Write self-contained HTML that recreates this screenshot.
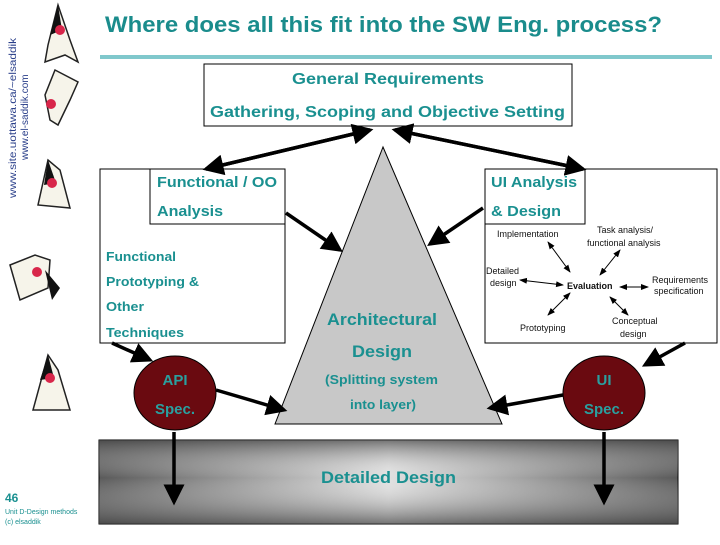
<!DOCTYPE html>
<html><head><meta charset="utf-8"><style>
html,body{margin:0;padding:0;background:#fff;}
svg text{font-family:"Liberation Sans",Arial,sans-serif;}
</style></head><body>
<svg width="720" height="540" viewBox="0 0 720 540" xmlns="http://www.w3.org/2000/svg">
<defs>
<marker id="ah" markerWidth="6" markerHeight="6" refX="5" refY="3" orient="auto" markerUnits="strokeWidth"><path d="M0,0 L6,3 L0,6 z" fill="#000"/></marker>
<marker id="as" markerWidth="8" markerHeight="8" refX="7" refY="4" orient="auto" markerUnits="userSpaceOnUse"><path d="M0,1 L8,4 L0,7 z" fill="#000"/></marker>
<marker id="as2" markerWidth="8" markerHeight="8" refX="1" refY="4" orient="auto" markerUnits="userSpaceOnUse"><path d="M8,1 L0,4 L8,7 z" fill="#000"/></marker>
<linearGradient id="gh" x1="0" x2="1" y1="0" y2="0"><stop offset="0" stop-color="#5a5a5a"/><stop offset="0.5" stop-color="#e0e0e0"/><stop offset="1" stop-color="#5a5a5a"/></linearGradient>
<linearGradient id="gv" x1="0" x2="0" y1="0" y2="1"><stop offset="0" stop-color="#444" stop-opacity="0.7"/><stop offset="0.45" stop-color="#fff" stop-opacity="0"/><stop offset="1" stop-color="#444" stop-opacity="0.7"/></linearGradient>
</defs>
<g lengthAdjust="spacingAndGlyphs">
<text transform="translate(16,198) rotate(-90)" font-size="10" fill="#2a3f8a" textLength="160" lengthAdjust="spacingAndGlyphs">www.site.uottawa.ca/~elsaddik</text>
<text transform="translate(28,160) rotate(-90)" font-size="10" fill="#2a3f8a">www.el-saddik.com</text>
</g>
<g fill="#f6f4ea" stroke="#222" stroke-width="1.5">
<path d="M58,5 L48,45 L45,62 L65,55 L78,62 L70,40 Z"/>
<path d="M55,70 L45,95 L50,120 L58,125 L70,100 L78,82 Z"/>
<path d="M48,160 L38,205 L70,208 L60,170 Z"/>
<path d="M10,265 L20,300 L48,288 L50,260 L35,255 Z"/>
<path d="M48,355 L33,410 L70,410 L58,370 Z"/>
</g>
<g fill="#111"><path d="M58,5 L50,35 L62,30 Z"/><path d="M48,160 L44,185 L56,183 Z"/><path d="M48,355 L40,380 L54,378 Z"/><path d="M45,270 L52,300 L60,288 Z"/></g>
<g fill="#d8264a"><circle cx="60" cy="30" r="5"/><circle cx="51" cy="104" r="5"/><circle cx="52" cy="183" r="5"/><circle cx="37" cy="272" r="5"/><circle cx="50" cy="378" r="5"/></g>
<text x="5" y="502" font-size="12" font-weight="bold" fill="#1a9090">46</text>
<text x="5" y="514" font-size="7" fill="#1a9090">Unit D-Design methods</text>
<text x="5" y="524" font-size="7" fill="#1a9090">(c) elsaddik</text>
<text x="105" y="32" font-size="22" font-weight="bold" fill="#1a8c8c" textLength="557" lengthAdjust="spacingAndGlyphs">Where does all this fit into the SW Eng. process?</text>
<rect x="100" y="55" width="612" height="4" fill="#80c8cc"/>
<rect x="204" y="64" width="368" height="62" fill="#fff" stroke="#000"/>
<text x="292" y="84" font-size="16" font-weight="bold" fill="#1a9090" textLength="192" lengthAdjust="spacingAndGlyphs">General Requirements</text>
<text x="210" y="117" font-size="16" font-weight="bold" fill="#1a9090" textLength="355" lengthAdjust="spacingAndGlyphs">Gathering, Scoping and Objective Setting</text>
<rect x="100" y="169" width="185" height="174" fill="#fff" stroke="#000"/>
<rect x="150" y="169" width="135" height="55" fill="#fff" stroke="#000"/>
<g font-size="15" font-weight="bold" fill="#1a9090">
<text x="157" y="187" textLength="120" lengthAdjust="spacingAndGlyphs">Functional / OO</text>
<text x="157" y="216" textLength="66" lengthAdjust="spacingAndGlyphs">Analysis</text>
</g>
<g font-size="13" font-weight="bold" fill="#1a9090">
<text x="106" y="261" textLength="70" lengthAdjust="spacingAndGlyphs">Functional</text>
<text x="106" y="286" textLength="93" lengthAdjust="spacingAndGlyphs">Prototyping &amp;</text>
<text x="106" y="311" textLength="38" lengthAdjust="spacingAndGlyphs">Other</text>
<text x="106" y="337" textLength="78" lengthAdjust="spacingAndGlyphs">Techniques</text>
</g>
<rect x="485" y="169" width="232" height="174" fill="#fff" stroke="#000"/>
<rect x="485" y="169" width="100" height="55" fill="#fff" stroke="#000"/>
<g font-size="15" font-weight="bold" fill="#1a9090">
<text x="491" y="187" textLength="86" lengthAdjust="spacingAndGlyphs">UI Analysis</text>
<text x="491" y="216" textLength="70" lengthAdjust="spacingAndGlyphs">&amp; Design</text>
</g>
<g font-size="9" fill="#111">
<text x="497" y="237" font-family="Liberation Serif">Implementation</text>
<text x="597" y="233" font-family="Liberation Serif">Task analysis/</text>
<text x="587" y="246" font-family="Liberation Serif">functional analysis</text>
<text x="486" y="274" font-family="Liberation Serif">Detailed</text>
<text x="490" y="286" font-family="Liberation Serif">design</text>
<text x="567" y="289" font-family="Liberation Serif" font-weight="bold">Evaluation</text>
<text x="652" y="283" font-family="Liberation Serif">Requirements</text>
<text x="654" y="294" font-family="Liberation Serif">specification</text>
<text x="520" y="331" font-family="Liberation Serif">Prototyping</text>
<text x="612" y="324" font-family="Liberation Serif">Conceptual</text>
<text x="620" y="337" font-family="Liberation Serif">design</text>
</g>
<g stroke="#000" stroke-width="1" marker-start="url(#as2)" marker-end="url(#as)">
<line x1="548" y1="242" x2="570" y2="272"/>
<line x1="520" y1="280" x2="563" y2="285"/>
<line x1="620" y1="287" x2="648" y2="287"/>
<line x1="600" y1="275" x2="620" y2="250"/>
<line x1="570" y1="293" x2="548" y2="315"/>
<line x1="610" y1="297" x2="628" y2="315"/>
</g>
<path d="M383,147 L502,424 L275,424 Z" fill="#c8c8c8" stroke="#000"/>
<g font-weight="bold" fill="#1a9090">
<text x="327" y="325" font-size="17" textLength="110" lengthAdjust="spacingAndGlyphs">Architectural</text>
<text x="352" y="357" font-size="17" textLength="60" lengthAdjust="spacingAndGlyphs">Design</text>
<text x="325" y="384" font-size="13" textLength="113" lengthAdjust="spacingAndGlyphs">(Splitting system</text>
<text x="350" y="409" font-size="13" textLength="66" lengthAdjust="spacingAndGlyphs">into layer)</text>
</g>
<rect x="99" y="440" width="579" height="84" fill="url(#gh)" stroke="#000"/>
<rect x="99" y="440" width="579" height="84" fill="url(#gv)"/>
<text x="321" y="483" font-size="17" font-weight="bold" fill="#1a9090" textLength="135" lengthAdjust="spacingAndGlyphs">Detailed Design</text>
<ellipse cx="175" cy="393" rx="41" ry="37" fill="#6a0a10" stroke="#000"/>
<ellipse cx="604" cy="393" rx="41" ry="37" fill="#6a0a10" stroke="#000"/>
<g font-size="15" font-weight="bold" fill="#2aa0a0" text-anchor="middle">
<text x="175" y="385">API</text><text x="175" y="414">Spec.</text>
<text x="604" y="385">UI</text><text x="604" y="414">Spec.</text>
</g>
<g stroke="#000" stroke-width="3.5" fill="none" marker-end="url(#ah)">
<line x1="370" y1="130" x2="206" y2="169"/>
<line x1="206" y1="169" x2="370" y2="130"/>
<line x1="395" y1="130" x2="583" y2="169"/>
<line x1="583" y1="169" x2="395" y2="130"/>
<line x1="286" y1="213" x2="340" y2="250"/>
<line x1="483" y1="208" x2="430" y2="244"/>
<line x1="112" y1="343" x2="150" y2="360"/>
<line x1="685" y1="343" x2="645" y2="365"/>
<line x1="216" y1="390" x2="284" y2="410"/>
<line x1="563" y1="395" x2="490" y2="408"/>
<line x1="174" y1="432" x2="174" y2="502"/>
<line x1="604" y1="432" x2="604" y2="502"/>
</g>
</svg>
</body></html>
